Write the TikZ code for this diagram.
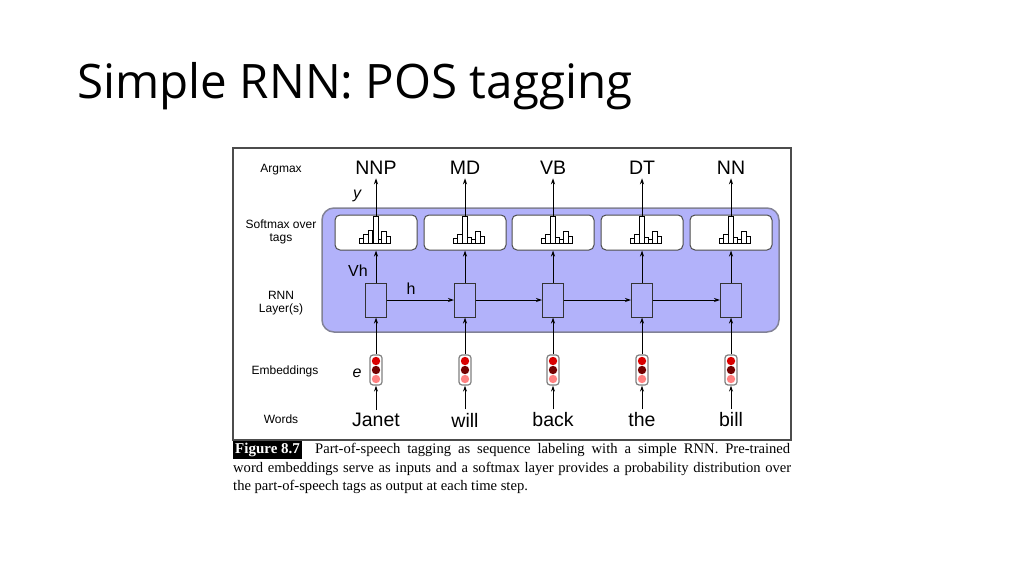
\documentclass[tikz,border=0pt]{standalone}
\usepackage{fontspec}
\setmainfont{Liberation Sans}
\newfontfamily\titlefont{Open Sans}
\newfontfamily\capfont{Liberation Serif}
\usetikzlibrary{arrows.meta}
\definecolor{panel}{RGB}{178,178,250}
\definecolor{panelb}{RGB}{130,130,150}
\begin{document}
\begin{tikzpicture}[x=1pt,y=-1pt,
  lbl/.style={font=\fontsize{12}{13}\selectfont,align=center},
  big/.style={font=\fontsize{19.5}{20}\selectfont},
  smx/.style={draw=black!70,fill=white,rounded corners=5pt,minimum width=82pt,minimum height=35pt,line width=1pt},
  rnn/.style={draw=black!80,fill=panel,minimum width=21pt,minimum height=34pt,line width=1pt},
  emb/.style={draw=black!50,fill=white,rounded corners=3pt,minimum width=12pt,minimum height=30pt,line width=1.2pt},
  arr/.style={-{Stealth[length=6pt,width=4pt]},line width=1pt},
  bar/.style={draw=black,line width=0.9pt,fill=white},
  captxt/.style={anchor=west,font=\capfont\fontsize{14.6}{17}\selectfont,inner sep=0pt}]
\useasboundingbox (0,0) rectangle (1024,575);
\fill[white] (0,0) rectangle (1024,575);
\node[anchor=west,font=\titlefont\fontsize{47.5}{50}\selectfont] (title) at (74,86) {Simple RNN: POS tagging};
\draw[line width=1.2pt,black!70] (233,148) rectangle (791,440);
\node[draw=panelb,fill=panel,rounded corners=12pt,line width=1.5pt,minimum width=457pt,minimum height=124pt] (panel) at (550.5,270) {};
\node[lbl] (la) at (281,170) {Argmax};
\node[lbl] (ls) at (281,232) {Softmax over\\tags};
\node[lbl] (lr) at (281,303) {RNN\\Layer(s)};
\node[lbl] (le) at (285,371) {Embeddings};
\node[lbl] (lw) at (281,419) {Words};
\node[font=\itshape\fontsize{16}{17}\selectfont] (ly) at (357,196) {y};
\node[font=\fontsize{16}{17}\selectfont] (lvh) at (358,271) {Vh};
\node[font=\fontsize{16}{17}\selectfont] (lh) at (411,289) {h};
\node[font=\itshape\fontsize{16}{17}\selectfont] (lee) at (357,373) {e};
\foreach \i/\x/\tag/\word/\off in {1/376/NNP/Janet/-17,2/465/MD/will/-12,3/553/VB/back/-12,4/642/DT/the/-12,5/731/NN/bill/-12}{
  \node[smx] (s\i) at (\x,232.5) {};
  \node[rnn] (r\i) at (\x,300) {};
  \node[emb] (e\i) at (\x,370) {};
  \fill[red!85!black] (\x,361) circle (4.2pt);
  \fill[red!45!black] (\x,370) circle (4.2pt);
  \fill[red!50!white] (\x,379) circle (4.2pt);
  \node[big] (t\i) at (\x,168) {\tag};
  \node[big] (w\i) at (\x,420) {\word};
  \coordinate (top\i) at (\x,216);
  \foreach \h [count=\k] in {5,9,13,6,4,12,7}{
    \pgfmathsetmacro\bx{\x+\off+(\k-1)*4.5}
    \draw[bar] (\bx,243) rectangle ++(4.5,-\h);
  }
  \draw[bar] (\x-2.5,243) rectangle (\x+2.5,216);
  \draw[arr] (top\i) -- (t\i.south);
  \draw[arr] (r\i.north) -- (s\i.south);
  \draw[arr] (e\i.north) -- (r\i.south);
  \draw[arr] (w\i.north) -- (e\i.south);
}
\foreach \a/\b in {1/2,2/3,3/4,4/5} \draw[arr] (r\a.east) -- (r\b.west);
\node[anchor=west,fill=black,text=white,font=\capfont\bfseries\fontsize{15}{16}\selectfont,inner sep=2pt] (fig) at (233,450) {Figure 8.7};
\node[captxt] (c1) at (315,450) {\makebox[475pt][s]{Part-of-speech tagging as sequence labeling with a simple RNN. Pre-trained}};
\node[captxt] (c2) at (233,468.5) {\makebox[558pt][s]{word embeddings serve as inputs and a softmax layer provides a probability distribution over}};
\node[captxt] (c3) at (233,487) {the part-of-speech tags as output at each time step.};
\end{tikzpicture}
\end{document}
